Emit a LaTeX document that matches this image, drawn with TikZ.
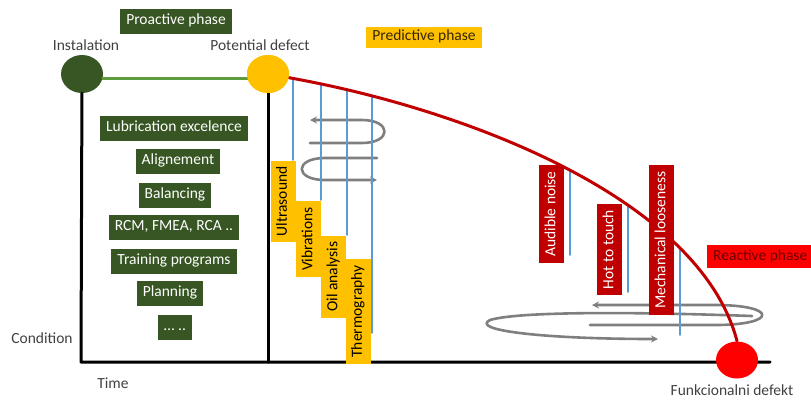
\documentclass[tikz,border=0pt]{standalone}
\usepackage{fontspec}
\setmainfont{Carlito}
\usetikzlibrary{shapes.geometric,intersections,arrows.meta}
\definecolor{dgreen}{HTML}{375623}
\definecolor{lgreen}{HTML}{5E9B3C}
\definecolor{amber}{HTML}{FFC000}
\definecolor{dred}{HTML}{C00000}
\definecolor{skyblue}{HTML}{5B9BD5}
\definecolor{txtgray}{HTML}{404040}
\definecolor{loopgray}{HTML}{7F7F7F}
\begin{document}
\begin{tikzpicture}[x=1pt,y=-1pt,font=\fontsize{15.5}{18}\selectfont, line join=round, line cap=round, >={Stealth[length=7pt,width=7pt]},
	tag/.style={inner xsep=6, inner ysep=0, minimum height=25, text height=11, text depth=3.5},
	gtag/.style={tag, fill=dgreen, text=white},
	ytag/.style={tag, fill=amber, text=black, rotate=90},
	rtag/.style={tag, fill=dred, text=white, rotate=90},
	dot/.style={ellipse, minimum width=42, minimum height=38, inner sep=0},
	lbl/.style={text=txtgray, inner sep=1},
	axis/.style={line width=3},
	spiral/.style={->, draw=loopgray, line width=2.6},
	drop/.style={skyblue, line width=1.6}]
	%%Khung hinh
	\useasboundingbox (0,0) rectangle (811,400);
	\coordinate (O) at (81,362);
	\coordinate (xend) at (770,362);
	%%Cac moc
	\node[dot, fill=dgreen] (inst) at (82,74) {};
	\node[dot, fill=amber] (pot) at (268,74) {};
	\draw[axis] (inst) -- (O) -- (xend);
	\draw[axis] (pot) -- (pot |- O);
	\draw[lgreen, line width=2.5] (inst.-12) -- (pot.192);
	\node[lbl] (instlbl) at (86,45) {Instalation};
	\node[lbl] (potlbl) at (260,45) {Potential defect};
	\node[lbl] (cond) at (42,338) {Condition};
	\node[lbl] (time) at (113,383) {Time};
	\node[lbl] (funk) at (732,390) {Funkcionalni defekt};
	%%Duong cong
	\path[name path=curve] (pot.-10) .. controls (470,110) and (700,200) .. (737,341);
	%%Vong xoay
	\draw[spiral] (310,143) -- (362,143) .. controls (392,143) and (392,120) .. (362,120) -- (310,120);
	\draw[spiral] (377,158) -- (325,158) .. controls (294,158) and (294,180) .. (325,180) -- (377,180);
	\draw[spiral] (590,325) -- (715,325) .. controls (778,325) and (778,305) .. (715,305) -- (592,305);
	\draw[spiral] (752,316) .. controls (640,312) and (520,311) .. (490,320) .. controls (470,330) and (540,339) .. (658,339);
	%%Duong doc
	\foreach \px/\py [count=\i] in {293/160,321/200,347/235,372/333,570/255,628/292,680/335} {
		\path[name path=vline\i] (\px,60) -- (\px,400);
		\draw[drop, name intersections={of=curve and vline\i, by=top\i}] (top\i) -- (\px,\py);
	}
	\draw[dred, line width=3] (pot.-10) .. controls (470,110) and (700,200) .. (737,341);
	\node[dot, fill=amber] at (pot) {};
	%%Pha
	\node[gtag] (proact) at (176,21) {Proactive phase};
	\node[tag, fill=amber, text=black!80!amber, minimum height=21] (pred) at (424,37) {Predictive phase};
	\node[tag, fill=red, text=dred!55!black, minimum height=23, anchor=west] (react) at (707,256.5) {Reactive phase};
	\foreach \px/\py/\txt [count=\i] in {174/128/Lubrication excelence, 178/161/Alignement, 175/195/Balancing,
		174/227/{RCM, FMEA, RCA ..}, 174/261/Training programs, 170/293/Planning, 175/327/{\ldots\ ..}}
		\node[gtag] (pro\i) at (\px,\py) {\txt};
	\node[ytag] (ultra) at (283,201.5) {Ultrasound};
	\node[ytag] (vibr) at (308.5,239) {Vibrations};
	\node[ytag] (oil) at (333.5,276.5) {Oil analysis};
	\node[ytag] (thermo) at (358,311.5) {Thermography};
	\node[rtag] (noise) at (551.5,214) {Audible noise};
	\node[rtag] (hot) at (609.5,249.5) {Hot to touch};
	\node[rtag] (loose) at (661.5,240) {Mechanical looseness};
	\node[dot, fill=red, minimum height=37] (fail) at (737,360) {};
\end{tikzpicture}
\end{document}
